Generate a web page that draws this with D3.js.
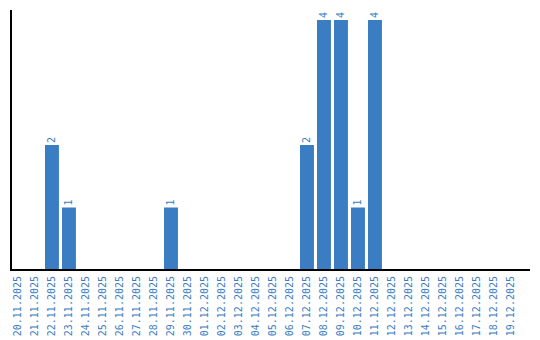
<!DOCTYPE html>
<html><head><meta charset="utf-8">
<script src="https://cdn.jsdelivr.net/npm/d3@7"></script>
<style>body{margin:0;background:#fff}svg{display:block}</style>
</head><body>
<svg id="c" width="540" height="340"></svg>
<script>
const dates = ["20.11.2025","21.11.2025","22.11.2025","23.11.2025","24.11.2025","25.11.2025","26.11.2025","27.11.2025","28.11.2025","29.11.2025","30.11.2025","01.12.2025","02.12.2025","03.12.2025","04.12.2025","05.12.2025","06.12.2025","07.12.2025","08.12.2025","09.12.2025","10.12.2025","11.12.2025","12.12.2025","13.12.2025","14.12.2025","15.12.2025","16.12.2025","17.12.2025","18.12.2025","19.12.2025"];
const values = [0,0,2,1,0,0,0,0,0,1,0,0,0,0,0,0,0,2,4,4,1,4,0,0,0,0,0,0,0,0];
const yMax = 4;

(function(){
const color = "#3b7dc2";
const svg = d3.select("#c");
const mLeft = 11, mBottom = 270, mTop = 20;

const x = d3.scaleBand().domain(dates).range([mLeft, mLeft + 17*(30-0.18)]).paddingInner(0.18).paddingOuter(0);
const y = d3.scaleLinear().domain([0, yMax]).range([mBottom, mTop]);

svg.selectAll("rect.bar").data(dates).join("rect")
  .attr("class","bar")
  .attr("x", d => x(d))
  .attr("width", x.bandwidth())
  .attr("y", (d,i) => y(values[i]))
  .attr("height", (d,i) => mBottom - y(values[i]))
  .attr("fill", color);

svg.selectAll("text.val").data(dates.filter((d,i)=>values[i]>0)).join("text")
  .attr("class","val")
  .attr("transform", d => `translate(${x(d)+x.bandwidth()/2+3.5},${y(values[dates.indexOf(d)])-2}) rotate(-90)`)
  .attr("text-anchor","start")
  .attr("font-family","DejaVu Sans Mono, monospace")
  .attr("font-size","10px")
  .attr("fill", color)
  .text(d => values[dates.indexOf(d)]);

const xAxis = d3.axisBottom(x).tickSize(0).tickPadding(0);
const gx = svg.append("g").attr("transform",`translate(0,${mBottom})`).call(xAxis);
gx.select(".domain").remove();
gx.selectAll("text")
  .attr("transform", `translate(3.5,6) rotate(-90)`)
  .attr("text-anchor","end")
  .attr("dy", null).attr("y", 0).attr("x", 0)
  .attr("font-family","DejaVu Sans Mono, monospace")
  .attr("font-size","10px")
  .attr("fill", color);

svg.append("line").attr("x1", mLeft).attr("x2", 530).attr("y1", mBottom).attr("y2", mBottom)
  .attr("stroke","#000").attr("stroke-width",2);
svg.append("line").attr("x1", mLeft).attr("x2", mLeft).attr("y1", 10).attr("y2", mBottom+1)
  .attr("stroke","#000").attr("stroke-width",2);
})();
</script>
</body></html>
